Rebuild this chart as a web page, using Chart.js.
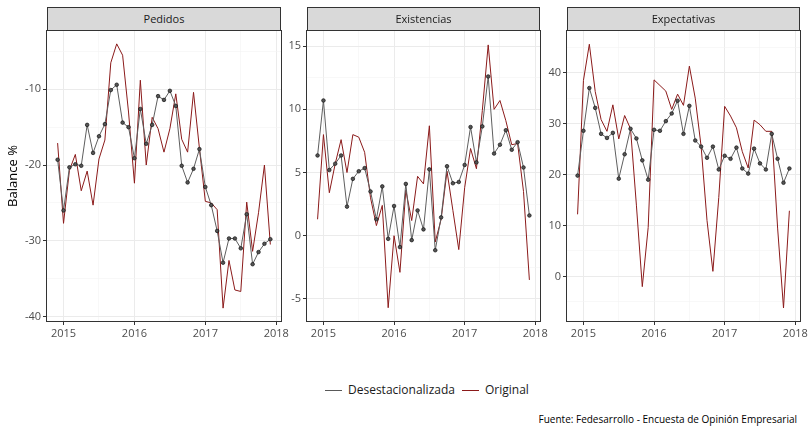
<!DOCTYPE html>
<html>
<head>
<meta charset="utf-8">
<script src="https://cdn.jsdelivr.net/npm/chart.js@4.4.1/dist/chart.umd.min.js"></script>
<style>
  body { margin: 0; background: #fff; width: 808px; height: 433px; position: relative; overflow: hidden; font-family: "Open Sans", sans-serif; }
  canvas { position: absolute; top: 0; }
  .tira { position: absolute; top: 7px; height: 24px; box-sizing: border-box; background: #d9d9d9; border: 1px solid #333; color: #1a1a1a; font-size: 11px; line-height: 22px; text-align: center; }
  .ley { position: absolute; top: 381px; left: 325px; font-size: 12px; color: #1a1a1a; white-space: nowrap; line-height: 18px; }
  .lin { display: inline-block; width: 17px; height: 1px; vertical-align: middle; margin-right: 6px; }
  .fuente { position: absolute; right: 11px; top: 412px; font-size: 10px; color: #000; white-space: nowrap; }
</style>
</head>
<body>
<canvas id="pedidos" width="295" height="345" style="left:0px"></canvas>
<canvas id="existencias" width="265" height="345" style="left:285px"></canvas>
<canvas id="expectativas" width="263" height="345" style="left:545px"></canvas>

<div class="tira" style="left:47px;width:234px">Pedidos</div>
<div class="tira" style="left:307px;width:233px">Existencias</div>
<div class="tira" style="left:567px;width:233px">Expectativas</div>

<div class="ley"><span class="lin" style="background:#595959"></span>Desestacionalizada<span class="lin" style="background:#8b1a1a;margin-left:7px"></span>Original</div>
<div class="fuente">Fuente: Fedesarrollo - Encuesta de Opinión Empresarial</div>

<script>
// meses (dic 2014 - dic 2017)
var meses = [
    '2014-12',
    '2015-01', '2015-02', '2015-03', '2015-04', '2015-05', '2015-06', '2015-07', '2015-08', '2015-09', '2015-10', '2015-11', '2015-12',
    '2016-01', '2016-02', '2016-03', '2016-04', '2016-05', '2016-06', '2016-07', '2016-08', '2016-09', '2016-10', '2016-11', '2016-12',
    '2017-01', '2017-02', '2017-03', '2017-04', '2017-05', '2017-06', '2017-07', '2017-08', '2017-09', '2017-10', '2017-11', '2017-12'
];

var pedidosDes = [-19.3,
    -26.0, -20.3, -19.9, -20.1, -14.7, -18.4, -16.2, -14.6, -10.1, -9.4, -14.4, -15.0,
    -19.1, -12.6, -17.2, -14.7, -10.9, -11.4, -10.2, -12.2, -20.1, -22.3, -20.5, -17.9,
    -22.9, -25.3, -28.7, -32.9, -29.7, -29.7, -31.0, -26.5, -33.1, -31.5, -30.4, -29.8];
var pedidosOrig = [-17.1,
    -27.7, -20.7, -18.6, -23.4, -20.8, -25.3, -19.2, -16.7, -6.5, -4.0, -5.5, -13.0,
    -22.4, -8.8, -20.0, -13.7, -15.2, -18.3, -15.2, -10.6, -16.6, -18.3, -10.4, -17.8,
    -24.8, -25.0, -25.9, -38.9, -32.6, -36.5, -36.7, -24.9, -31.4, -26.3, -20.0, -30.5];

var existDes = [6.35,
    10.7, 5.2, 5.7, 6.35, 2.3, 4.5, 5.1, 5.35, 3.5, 1.3, 3.9, -0.25,
    2.35, -0.9, 4.1, -0.35, 2.0, 0.5, 5.25, -1.15, 1.45, 5.5, 4.15, 4.25,
    5.6, 8.6, 5.8, 8.65, 12.6, 6.5, 7.2, 8.35, 6.8, 7.4, 5.4, 1.6];
var existOrig = [1.3,
    8.0, 3.4, 5.7, 7.6, 5.0, 8.0, 7.8, 6.6, 3.0, 0.8, 2.4, -5.7,
    0.0, -2.9, 3.6, 1.2, 4.7, 4.1, 8.7, -0.5, 1.3, 5.1, 2.0, -1.1,
    3.8, 6.9, 5.3, 9.9, 15.1, 10.0, 10.7, 9.1, 7.2, 7.3, 3.5, -3.5];

var expectDes = [19.8,
    28.6, 37.0, 33.1, 28.0, 27.2, 28.2, 19.2, 24.0, 29.0, 27.1, 22.8, 19.0,
    28.8, 28.6, 30.5, 32.0, 34.5, 28.0, 33.5, 26.7, 25.5, 23.3, 25.5, 21.0,
    23.7, 23.1, 25.3, 21.2, 20.2, 25.1, 22.2, 21.0, 28.0, 23.1, 18.4, 21.2];
var expectOrig = [12.2,
    38.5, 45.6, 36.3, 30.8, 28.5, 33.7, 27.0, 31.6, 29.0, 14.0, -2.0, 9.6,
    38.6, 37.5, 36.4, 32.8, 35.8, 33.6, 41.3, 35.0, 25.5, 11.0, 1.0, 15.5,
    33.4, 31.5, 29.2, 24.5, 21.3, 30.7, 29.8, 28.5, 28.5, 9.5, -6.2, 12.9];

// ticks
var xMayor = [2015, 2016, 2017, 2018];
var xMenor = [2015.5, 2016.5, 2017.5];
var yPedMayor = [-40, -30, -20, -10];
var yPedMenor = [-35, -25, -15, -5];
var yExiMayor = [-5, 0, 5, 10, 15];
var yExiMenor = [-2.5, 2.5, 7.5, 12.5];
var yExpMayor = [0, 10, 20, 30, 40];
var yExpMenor = [-5, 5, 15, 25, 35, 45];

Chart.defaults.font.family = '"Open Sans", sans-serif';
Chart.defaults.font.size = 11;
Chart.defaults.color = '#4d4d4d';

function fechaNum(m) {
    var p = m.split('-');
    return parseInt(p[0]) + (parseInt(p[1]) - 1) / 12;
}

function puntos(valores) {
    return valores.map(function(v, i) { return { x: fechaNum(meses[i]), y: v }; });
}

var marco = {
    id: 'marco',
    afterDraw: function(chart) {
        var a = chart.chartArea;
        var ctx = chart.ctx;
        ctx.save();
        ctx.strokeStyle = '#333333';
        ctx.lineWidth = 1;
        ctx.strokeRect(Math.round(a.left) - 0.5, Math.round(a.top) - 0.5, Math.round(a.right - a.left) + 1, Math.round(a.bottom - a.top) + 1);
        ctx.restore();
    }
};

function gridOpts(mayor) {
    return {
        color: function(c) { return c.tick && mayor.indexOf(c.tick.value) >= 0 ? '#ebebeb' : '#f3f3f3'; },
        lineWidth: function(c) { return c.tick && mayor.indexOf(c.tick.value) >= 0 ? 1 : 0.6; },
        tickColor: function(c) { return c.tick && mayor.indexOf(c.tick.value) >= 0 ? '#333333' : 'rgba(0,0,0,0)'; },
        tickLength: 4,
        tickWidth: 1,
        drawTicks: true
    };
}

function panel(id, des, orig, ymin, ymax, yMayor, yMenor, anchoY, padIzq, padDer, tituloY) {
    var ctx = document.getElementById(id).getContext('2d');
    return new Chart(ctx, {
        type: 'line',
        data: {
            datasets: [{
                label: 'Desestacionalizada',
                data: puntos(des),
                borderColor: '#5e5e5e',
                borderWidth: 1,
                pointRadius: 1.8,
                pointBorderWidth: 0.7,
                pointBorderColor: '#111111',
                pointBackgroundColor: '#555555',
                tension: 0
            }, {
                label: 'Original',
                data: puntos(orig),
                borderColor: '#8b1a1a',
                borderWidth: 1,
                pointRadius: 0,
                tension: 0
            }]
        },
        options: {
            responsive: false,
            devicePixelRatio: 1,
            animation: false,
            events: [],
            layout: { padding: { left: padIzq, right: padDer, top: 31, bottom: 4 } },
            plugins: { legend: { display: false }, title: { display: false }, tooltip: { enabled: false } },
            scales: {
                x: {
                    type: 'linear',
                    min: 2014.767,
                    max: 2018.067,
                    border: { display: false },
                    grid: gridOpts(xMayor),
                    afterBuildTicks: function(s) {
                        s.ticks = xMayor.concat(xMenor).map(function(v) { return { value: v }; });
                    },
                    afterFit: function(s) { s.height = 20; s.paddingLeft = 0; s.paddingRight = 0; },
                    ticks: {
                        autoSkip: false,
                        maxRotation: 0,
                        padding: 2,
                        color: '#4d4d4d',
                        callback: function(v) { return xMayor.indexOf(v) >= 0 ? String(v) : ''; }
                    }
                },
                y: {
                    type: 'linear',
                    min: ymin,
                    max: ymax,
                    border: { display: false },
                    grid: gridOpts(yMayor),
                    afterBuildTicks: function(s) {
                        s.ticks = yMayor.concat(yMenor).map(function(v) { return { value: v }; });
                    },
                    afterFit: function(s) { s.width = anchoY; s.paddingTop = 0; s.paddingBottom = 0; },
                    title: {
                        display: !!tituloY,
                        text: tituloY || '',
                        color: '#000000',
                        font: { size: 13 },
                        padding: { top: 5, bottom: 0 }
                    },
                    ticks: {
                        autoSkip: false,
                        padding: 2,
                        color: '#4d4d4d',
                        callback: function(v) { return yMayor.indexOf(v) >= 0 ? String(v) : ''; }
                    }
                }
            }
        },
        plugins: [marco]
    });
}

panel('pedidos', pedidosDes, pedidosOrig, -40.6, -2.3, yPedMayor, yPedMenor, 47, 0, 14, 'Balance %');
panel('existencias', existDes, existOrig, -6.75, 16.2, yExiMayor, yExiMenor, 22, 0, 10, null);
panel('expectativas', expectDes, expectOrig, -8.75, 48.2, yExpMayor, yExpMenor, 22, 0, 8, null);
</script>
</body>
</html>
